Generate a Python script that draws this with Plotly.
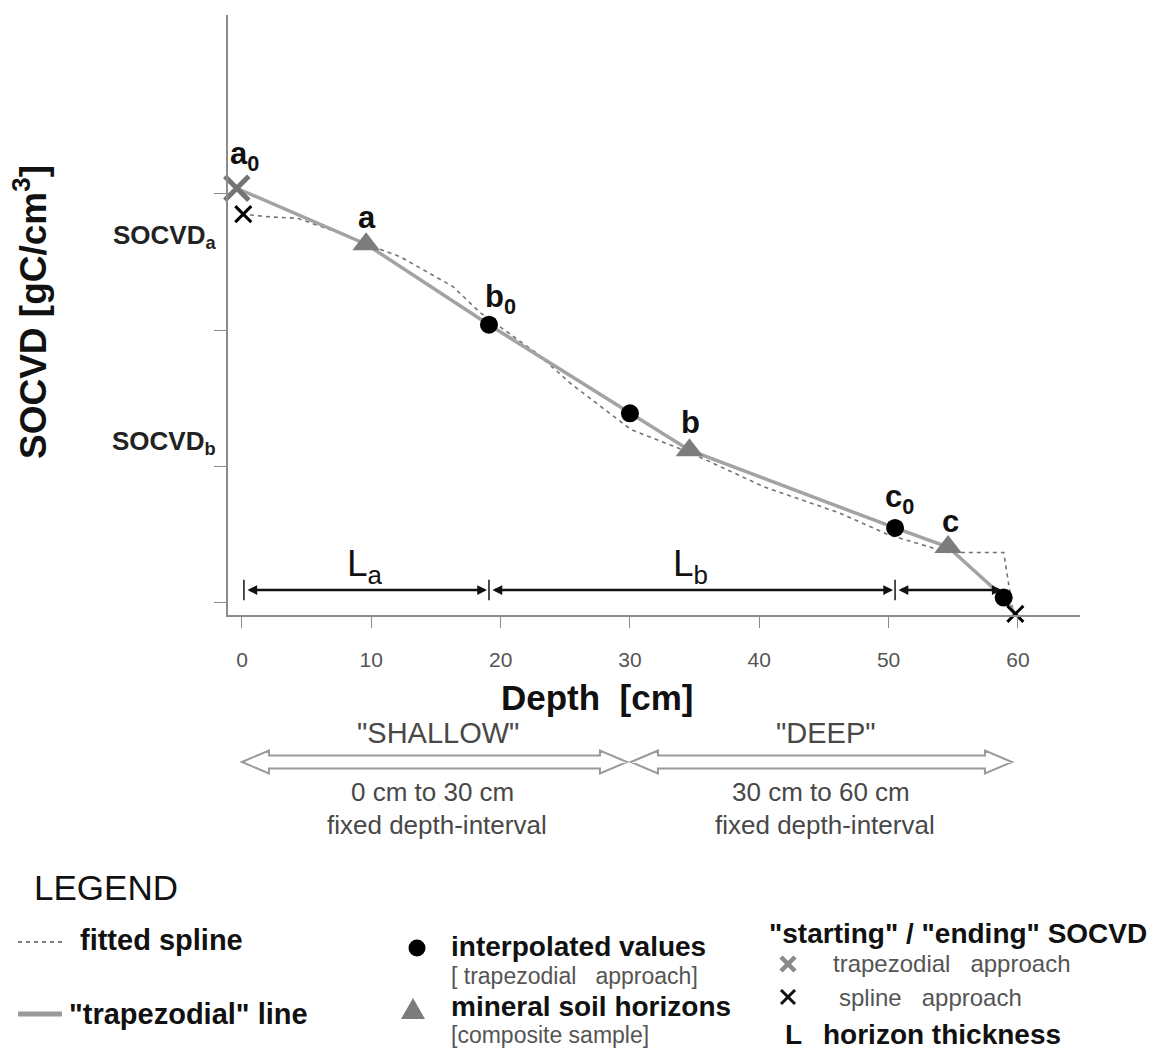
import plotly.graph_objects as go

# ---------------- data ----------------
spline_depth = [0.0, 2.2, 4.3, 7.6, 9.6, 12.2, 16.3, 18.4, 22.8, 25.4, 30.1, 34.7, 40.4, 46.2, 50.0, 54.6, 58.9, 59.6, 59.8]
spline_socvd = [2.85, 2.83, 2.82, 2.71, 2.63, 2.54, 2.32, 2.13, 1.83, 1.61, 1.27, 1.10, 0.85, 0.66, 0.50, 0.37, 0.37, -0.05, -0.08]

trap_depth = [-0.4, 9.6, 19.1, 30.0, 34.6, 50.5, 54.6, 58.9, 59.8]
trap_socvd = [3.04, 2.63, 2.04, 1.39, 1.12, 0.55, 0.41, 0.04, -0.08]

horizon_depth = [9.6, 34.6, 54.6]
horizon_socvd = [2.63, 1.12, 0.41]
horizon_labels = ["a", "b", "c"]

interp_depth = [19.1, 30.0, 50.5, 58.9]
interp_socvd = [2.04, 1.39, 0.55, 0.04]
interp_labels = ["b<sub>0</sub>", "", "c<sub>0</sub>", ""]

trap_start_depth = [-0.4]
trap_start_socvd = [3.04]
spline_end_depth = [0.1, 59.8]
spline_end_socvd = [2.85, -0.08]

thickness_bounds = [0.15, 19.1, 50.5, 58.9]
thickness_level = 0.095
thickness_labels = ["L<sub>a</sub>", "L<sub>b</sub>"]

x_ticks = [0, 10, 20, 30, 40, 50, 60]
y_ticks = [0, 1, 2, 3]

intervals = [(0, 30), (30, 60)]
interval_names = ['"SHALLOW"', '"DEEP"']
interval_text = ["0 cm to 30 cm", "30 cm to 60 cm"]

# ---------------- geometry helpers ----------------
OFF = 8                      # page body margin of the html page
W, H = 1159 - OFF, 1059 - OFF
X0, X1 = 228, 1080           # plot area in window pixels
Y0, Y1 = 15, 615
XR = [-1.08, 64.8]
YR = [-0.088, 4.31]
FONT = "Liberation Sans, Arial, sans-serif"


def pxp(x):
    return (x - OFF) / W


def pyp(y):
    return 1 - (y - OFF) / H


def xpix(d):
    return X0 + (d - XR[0]) / (XR[1] - XR[0]) * (X1 - X0)


fig = go.Figure()

# fitted spline
fig.add_trace(go.Scatter(x=spline_depth, y=spline_socvd, mode="lines",
                         line=dict(color="#747474", width=1.6, dash="4px,4px"),
                         hoverinfo="skip", cliponaxis=False))
# trapezoidal line
fig.add_trace(go.Scatter(x=trap_depth, y=trap_socvd, mode="lines",
                         line=dict(color="#a3a3a3", width=3.5),
                         hoverinfo="skip", cliponaxis=False))
# mineral soil horizons
fig.add_trace(go.Scatter(x=horizon_depth, y=horizon_socvd, mode="markers",
                         marker=dict(symbol="triangle-up", size=24, color="#7c7c7c"),
                         cliponaxis=False))
# interpolated values
fig.add_trace(go.Scatter(x=interp_depth, y=interp_socvd, mode="markers",
                         marker=dict(symbol="circle", size=18, color="#000000"),
                         cliponaxis=False))
# starting SOCVD trapezoidal
fig.add_trace(go.Scatter(x=trap_start_depth, y=trap_start_socvd, mode="markers",
                         marker=dict(symbol="x-thin", size=24,
                                     line=dict(color="#747474", width=5)),
                         cliponaxis=False))
# starting / ending SOCVD spline
fig.add_trace(go.Scatter(x=spline_end_depth, y=spline_end_socvd, mode="markers",
                         marker=dict(symbol="x-thin", size=16,
                                     line=dict(color="#000000", width=3)),
                         cliponaxis=False))

annotations = []
shapes = []

# point labels
lab_style = dict(showarrow=False, xanchor="center", yanchor="middle",
                 font=dict(family=FONT, size=31, color="#111111"))
annotations.append(dict(x=trap_start_depth[0], y=trap_start_socvd[0], text="<b>a<sub>0</sub></b>",
                        xshift=8, yshift=32, **lab_style))
label_shift = [(1, 27), (1, 28), (2, 26)]
for d, s, t, (dx, dy) in zip(horizon_depth, horizon_socvd, horizon_labels, label_shift):
    annotations.append(dict(x=d, y=s, text="<b>" + t + "</b>", xshift=dx, yshift=dy, **lab_style))
ishift = [(12, 26), None, (4, 29), None]
for d, s, t, sh in zip(interp_depth, interp_socvd, interp_labels, ishift):
    if t:
        annotations.append(dict(x=d, y=s, text="<b>" + t + "</b>", xshift=sh[0], yshift=sh[1],
                                **lab_style))

# horizon thickness arrows
for i in range(len(thickness_bounds) - 1):
    annotations.append(dict(x=thickness_bounds[i + 1], y=thickness_level,
                            ax=thickness_bounds[i], ay=thickness_level,
                            axref="x", ayref="y", xref="x", yref="y",
                            text="", showarrow=True, arrowside="end+start",
                            arrowhead=2, arrowsize=0.75, arrowwidth=2.6,
                            arrowcolor="#111111", standoff=2, startstandoff=2))
for b in thickness_bounds[:-1]:
    shapes.append(dict(type="line", xref="x", yref="y", x0=b, x1=b,
                       y0=thickness_level - 0.075, y1=thickness_level + 0.075,
                       line=dict(color="#222222", width=1.6)))
for i, t in enumerate(thickness_labels):
    mid = (thickness_bounds[i] + thickness_bounds[i + 1]) / 2
    annotations.append(dict(x=mid - 0.1, y=thickness_level, text=t, yshift=24,
                            showarrow=False, xanchor="center", yanchor="middle",
                            font=dict(family=FONT, size=37, color="#111111")))

# y-axis labels SOCVD_a / SOCVD_b
for t, ypx in [("SOCVD<sub>a</sub>", 237), ("SOCVD<sub>b</sub>", 442)]:
    annotations.append(dict(xref="paper", yref="paper", x=pxp(218), y=pyp(ypx),
                            xanchor="right", yanchor="middle", text="<b>" + t + "</b>",
                            showarrow=False,
                            font=dict(family=FONT, size=26, color="#222222")))

# axis titles
annotations.append(dict(xref="paper", yref="paper", x=pxp(31), y=pyp(312),
                        xanchor="center", yanchor="middle",
                        text="<b>SOCVD [gC/cm<sup>3</sup>]</b>", textangle=-90,
                        showarrow=False, font=dict(family=FONT, size=37, color="#111111")))
annotations.append(dict(xref="paper", yref="paper", x=pxp(597), y=pyp(697),
                        xanchor="center", yanchor="middle",
                        text="<b>Depth\u00a0 [cm]</b>",
                        showarrow=False, font=dict(family=FONT, size=35, color="#111111")))


# hollow interval arrows
def hollow_arrow(xl, xr, yc, head=27, hh=11.5, sh=6.5):
    pts = [(xl, yc), (xl + head, yc - hh), (xl + head, yc - sh), (xr - head, yc - sh),
           (xr - head, yc - hh), (xr, yc), (xr - head, yc + hh), (xr - head, yc + sh),
           (xl + head, yc + sh), (xl + head, yc + hh)]
    path = "M " + " L ".join(f"{pxp(x):.5f},{pyp(y):.5f}" for x, y in pts) + " Z"
    return dict(type="path", xref="paper", yref="paper", path=path,
                fillcolor="#ffffff", line=dict(color="#9a9a9a", width=2))


for (a, b), name, txt in zip(intervals, interval_names, interval_text):
    xl = xpix(a) + (0 if a == 0 else 1)
    xr = xpix(b) - (3 if b == 30 else 6)
    shapes.append(hollow_arrow(xl, xr, 762))
    mid = (xpix(a) + xpix(b)) / 2
    gray = dict(family=FONT, size=26, color="#484848")
    annotations.append(dict(xref="paper", yref="paper", x=pxp(mid + 2), y=pyp(733),
                            xanchor="center", yanchor="middle",
                            text=name, showarrow=False,
                            font=dict(family=FONT, size=29, color="#484848")))
    annotations.append(dict(xref="paper", yref="paper", x=pxp(mid - 3), y=pyp(792),
                            xanchor="center", yanchor="middle",
                            text=txt, showarrow=False, font=gray))
    annotations.append(dict(xref="paper", yref="paper", x=pxp(mid + 1), y=pyp(825),
                            xanchor="center", yanchor="middle",
                            text="fixed depth-interval", showarrow=False, font=gray))


# ---------------- legend block ----------------
def text_at(x, y, t, size, bold=False, color="#111111", anchor="left"):
    annotations.append(dict(xref="paper", yref="paper", x=pxp(x), y=pyp(y),
                            xanchor=anchor, yanchor="middle",
                            text=("<b>" + t + "</b>") if bold else t, showarrow=False,
                            font=dict(family=FONT, size=size, color=color)))


text_at(32, 887, "LEGEND", 35)
shapes.append(dict(type="line", xref="paper", yref="paper", x0=pxp(18), x1=pxp(63),
                   y0=pyp(942), y1=pyp(942), line=dict(color="#555555", width=1.6, dash="4px,4px")))
text_at(78, 940, "fitted spline", 29, bold=True)
shapes.append(dict(type="line", xref="paper", yref="paper", x0=pxp(18), x1=pxp(62),
                   y0=pyp(1014), y1=pyp(1014), line=dict(color="#999999", width=5)))
text_at(67, 1014, '"trapezodial" line', 29, bold=True)

shapes.append(dict(type="circle", xref="paper", yref="paper",
                   x0=pxp(417 - 8.5), x1=pxp(417 + 8.5), y0=pyp(948 - 8.5), y1=pyp(948 + 8.5),
                   fillcolor="#000000", line=dict(width=0)))
text_at(449, 946, "interpolated values", 28, bold=True)
text_at(449, 976, "[ trapezodial\u00a0\u00a0 approach]", 23, color="#555555")
tri = [(401, 1019), (425, 1019), (413, 998)]
shapes.append(dict(type="path", xref="paper", yref="paper",
                   path="M " + " L ".join(f"{pxp(x):.5f},{pyp(y):.5f}" for x, y in tri) + " Z",
                   fillcolor="#7c7c7c", line=dict(width=0)))
text_at(449, 1006, "mineral soil horizons", 28, bold=True)
text_at(449, 1035, "[composite sample]", 23, color="#555555")

text_at(767, 933, '"starting" / "ending" SOCVD', 28, bold=True)
for (cx, cy, col, wd) in [(788, 964, "#8a8a8a", 4.5), (788, 997, "#111111", 3)]:
    for sgn in (1, -1):
        shapes.append(dict(type="line", xref="paper", yref="paper",
                           x0=pxp(cx - 7), x1=pxp(cx + 7), y0=pyp(cy - 7 * sgn), y1=pyp(cy + 7 * sgn),
                           line=dict(color=col, width=wd)))
text_at(831, 963, "trapezodial\u00a0\u00a0 approach", 24, color="#555555")
text_at(837, 997, "spline\u00a0\u00a0 approach", 24, color="#555555")
text_at(793, 1034, "L", 28, bold=True, anchor="center")
text_at(821, 1034, "horizon thickness", 28, bold=True)

fig.update_layout(
    width=W, height=H,
    margin=dict(l=0, r=0, t=0, b=0),
    paper_bgcolor="#ffffff", plot_bgcolor="#ffffff",
    showlegend=False,
    font=dict(family=FONT),
    xaxis=dict(domain=[pxp(X0), pxp(X1)], range=XR, tickvals=x_ticks,
               showline=True, linecolor="#8c8c8c", linewidth=1.6,
               ticks="outside", ticklen=11, tickwidth=1.4, tickcolor="#8c8c8c",
               tickfont=dict(family=FONT, size=21, color="#555555"),
               ticklabelstandoff=14,
               showgrid=False, zeroline=False, fixedrange=True),
    yaxis=dict(domain=[pyp(Y1), pyp(Y0)], range=YR, tickvals=y_ticks,
               showticklabels=False,
               showline=True, linecolor="#8c8c8c", linewidth=1.6,
               ticks="outside", ticklen=12, tickwidth=1.4, tickcolor="#8c8c8c",
               showgrid=False, zeroline=False, fixedrange=True),
    annotations=annotations,
    shapes=shapes,
)

fig.write_html("out.html")
